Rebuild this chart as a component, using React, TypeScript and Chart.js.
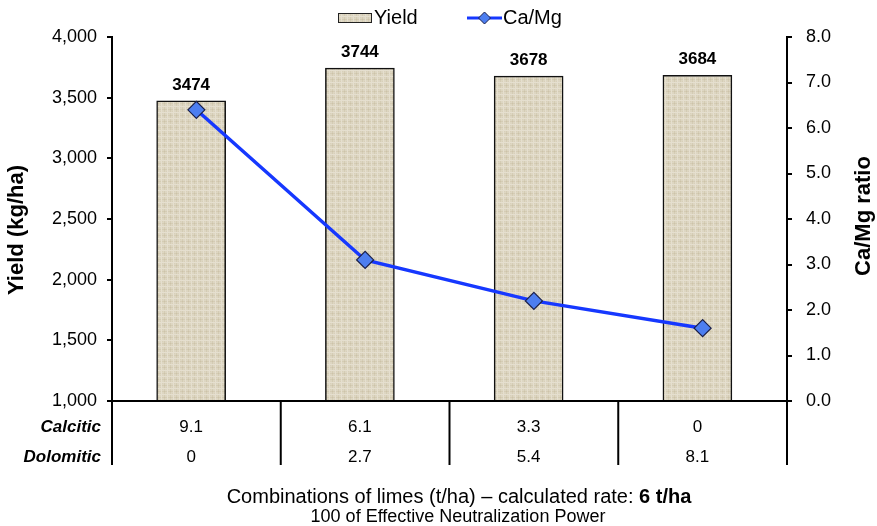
import { useEffect, useRef } from 'react';
import { Chart, registerables } from 'chart.js';

Chart.register(...registerables);

const categories = ['9.1 / 0', '6.1 / 2.7', '3.3 / 5.4', '0 / 8.1'];
const yieldValues = [3474, 3744, 3678, 3684];
const caMgRatio = [6.4, 3.1, 2.2, 1.6];
const rowLabels = ['Calcitic', 'Dolomitic'];
const calciticRates = ['9.1', '6.1', '3.3', '0'];
const dolomiticRates = ['0', '2.7', '5.4', '8.1'];
const tableRows = [calciticRates, dolomiticRates];
const legendLabels = ['Yield', 'Ca/Mg'];
const yTitle = 'Yield (kg/ha)';
const y2Title = 'Ca/Mg ratio';
const xTitleNormal = 'Combinations of limes (t/ha) \u2013 calculated rate: ';
const xTitleBold = '6 t/ha';
const xSubtitle = '100 of Effective Neutralization Power';

const FONT = '"Liberation Sans", Arial, Helvetica, sans-serif';
const LINE_COLOR = '#1638ff';
const POINT_FILL = '#4d7ef0';
const POINT_BORDER = '#1a1f4a';
const BAR_SHIFT = 0.031;

function makePattern(): CanvasPattern | string {
  const c = document.createElement('canvas');
  c.width = 6;
  c.height = 6;
  const g = c.getContext('2d');
  if (!g) return '#dcd4be';
  g.fillStyle = '#ddd6c2';
  g.fillRect(0, 0, 6, 6);
  g.fillStyle = '#d4ccb4';
  g.fillRect(0, 1, 6, 1);
  g.fillRect(2, 0, 1, 6);
  g.fillStyle = '#e5dfcf';
  g.fillRect(0, 4, 6, 1);
  g.fillRect(5, 0, 1, 6);
  g.fillStyle = '#cdc3a9';
  g.fillRect(2, 1, 1, 1);
  g.fillStyle = '#d8d0b9';
  g.fillRect(4, 3, 1, 1);
  g.fillRect(0, 5, 1, 1);
  const p = g.createPattern(c, 'repeat');
  return p || '#dcd4be';
}

export default function App() {
  const ref = useRef<HTMLCanvasElement | null>(null);

  useEffect(() => {
    document.body.style.margin = '0';
    const canvas = ref.current;
    if (!canvas) return;
    const pattern = makePattern();

    const overlay = {
      id: 'overlay',
      afterDatasetsDraw(chart: any) {
        const ctx = chart.ctx as CanvasRenderingContext2D;
        const area = chart.chartArea;
        const xs = chart.scales.x;
        const barMeta = chart.getDatasetMeta(0);
        ctx.save();

        // data labels above bars
        ctx.fillStyle = '#000';
        ctx.font = `bold 17px ${FONT}`;
        ctx.textAlign = 'center';
        ctx.textBaseline = 'middle';
        barMeta.data.forEach((el: any, i: number) => {
          ctx.fillText(String(yieldValues[i]), el.x, el.y - 16);
        });

        // bottom axis line
        ctx.strokeStyle = '#000';
        ctx.lineWidth = 2;
        ctx.beginPath();
        ctx.moveTo(area.left - 1, area.bottom);
        ctx.lineTo(area.right + 1, area.bottom);
        ctx.stroke();

        // table vertical lines
        const step = xs.getPixelForValue(1) - xs.getPixelForValue(0);
        const tableBottom = area.bottom + 64;
        for (let i = 0; i <= categories.length; i++) {
          const xp = xs.getPixelForValue(0) - step / 2 + i * step;
          ctx.beginPath();
          ctx.moveTo(xp, area.bottom);
          ctx.lineTo(xp, tableBottom);
          ctx.stroke();
        }

        // table rows
        const rowY = [area.bottom + 26, area.bottom + 56];
        rowLabels.forEach((lab, r) => {
          ctx.font = `italic bold 17px ${FONT}`;
          ctx.textAlign = 'right';
          ctx.fillText(lab, area.left - 11, rowY[r]);
          ctx.font = `17px ${FONT}`;
          ctx.textAlign = 'center';
          tableRows[r].forEach((v, i) => {
            const el = barMeta.data[i];
            ctx.fillText(v, el.x, rowY[r]);
          });
        });

        // axis titles
        ctx.font = `bold 22px ${FONT}`;
        ctx.textAlign = 'center';
        ctx.save();
        ctx.translate(17, 230);
        ctx.rotate(-Math.PI / 2);
        ctx.fillText(yTitle, 0, 0);
        ctx.restore();
        ctx.save();
        ctx.translate(864, 216);
        ctx.rotate(-Math.PI / 2);
        ctx.fillText(y2Title, 0, 0);
        ctx.restore();

        // x title
        ctx.font = `20px ${FONT}`;
        const w1 = ctx.measureText(xTitleNormal).width;
        ctx.font = `bold 20px ${FONT}`;
        const w2 = ctx.measureText(xTitleBold).width;
        const cx = 459;
        const startX = cx - (w1 + w2) / 2;
        ctx.textAlign = 'left';
        ctx.font = `20px ${FONT}`;
        ctx.fillText(xTitleNormal, startX, 497);
        ctx.font = `bold 20px ${FONT}`;
        ctx.fillText(xTitleBold, startX + w1, 497);
        ctx.font = `18px ${FONT}`;
        ctx.textAlign = 'center';
        ctx.fillText(xSubtitle, 458, 517);

        // legend
        ctx.fillStyle = pattern as any;
        ctx.fillRect(338, 13, 34, 10);
        ctx.strokeStyle = '#222';
        ctx.lineWidth = 1;
        ctx.strokeRect(338.5, 13.5, 33, 9);
        ctx.fillStyle = '#000';
        ctx.font = `20px ${FONT}`;
        ctx.textAlign = 'left';
        ctx.fillText(legendLabels[0], 374, 18);
        ctx.strokeStyle = LINE_COLOR;
        ctx.lineWidth = 3;
        ctx.beginPath();
        ctx.moveTo(467, 18);
        ctx.lineTo(502, 18);
        ctx.stroke();
        ctx.beginPath();
        ctx.moveTo(484.5, 12);
        ctx.lineTo(490.5, 18);
        ctx.lineTo(484.5, 24);
        ctx.lineTo(478.5, 18);
        ctx.closePath();
        ctx.fillStyle = POINT_FILL;
        ctx.fill();
        ctx.strokeStyle = POINT_BORDER;
        ctx.lineWidth = 1;
        ctx.stroke();
        ctx.fillStyle = '#000';
        ctx.fillText(legendLabels[1], 503, 18);

        ctx.restore();
      },
    };

    const chart = new Chart(canvas, {
      type: 'bar',
      data: {
        labels: categories,
        datasets: [
          {
            type: 'bar',
            label: legendLabels[0],
            data: yieldValues.map((v, i) => ({ x: i, y: v })),
            xAxisID: 'xb',
            yAxisID: 'y',
            backgroundColor: pattern as any,
            borderColor: '#111',
            borderWidth: 1.5,
            grouped: false,
            barPercentage: 1,
            categoryPercentage: 1,
            maxBarThickness: 69,
            order: 2,
          } as any,
          {
            type: 'line',
            label: legendLabels[1],
            data: caMgRatio,
            xAxisID: 'x',
            yAxisID: 'y2',
            borderColor: LINE_COLOR,
            borderWidth: 3.5,
            pointStyle: 'rectRot',
            pointRadius: 8.5,
            pointBackgroundColor: POINT_FILL,
            pointBorderColor: POINT_BORDER,
            pointBorderWidth: 1.2,
            tension: 0,
            order: 1,
          } as any,
        ],
      },
      options: {
        responsive: false,
        animation: false,
        devicePixelRatio: 1,
        layout: { padding: { top: 37, bottom: 125, left: 0, right: 0 } },
        plugins: { legend: { display: false }, tooltip: { enabled: false } },
        scales: {
          x: {
            type: 'category',
            display: false,
            offset: true,
          },
          xb: {
            type: 'linear',
            display: false,
            offset: false,
            bounds: 'data',
            min: -0.5 + BAR_SHIFT,
            max: categories.length - 0.5 + BAR_SHIFT,
            ticks: { stepSize: 1 },
          },
          y: {
            position: 'left',
            min: 1000,
            max: 4000,
            ticks: {
              stepSize: 500,
              color: '#000',
              padding: 10,
              font: { size: 18, family: FONT },
              callback: (v: any) => Number(v).toLocaleString('en-US'),
            },
            grid: { drawOnChartArea: false, drawTicks: true, tickLength: 5, color: '#000', lineWidth: 2 },
            border: { display: true, color: '#000', width: 2 },
            afterFit: (s: any) => {
              s.width = 112;
              s.paddingTop = 0;
              s.paddingBottom = 0;
            },
          },
          y2: {
            position: 'right',
            min: 0,
            max: 8,
            ticks: {
              stepSize: 1,
              color: '#000',
              padding: 14,
              font: { size: 18, family: FONT },
              callback: (v: any) => Number(v).toFixed(1),
            },
            grid: { drawOnChartArea: false, drawTicks: true, tickLength: 5, color: '#000', lineWidth: 2 },
            border: { display: true, color: '#000', width: 2 },
            afterFit: (s: any) => {
              s.width = 90;
              s.paddingTop = 0;
              s.paddingBottom = 0;
            },
          },
        } as any,
      },
      plugins: [overlay],
    });

    return () => chart.destroy();
  }, []);

  return (
    <div style={{ position: 'absolute', left: 0, top: 0, width: 877, height: 526, background: '#fff' }}>
      <canvas ref={ref} width={877} height={526} />
    </div>
  );
}
